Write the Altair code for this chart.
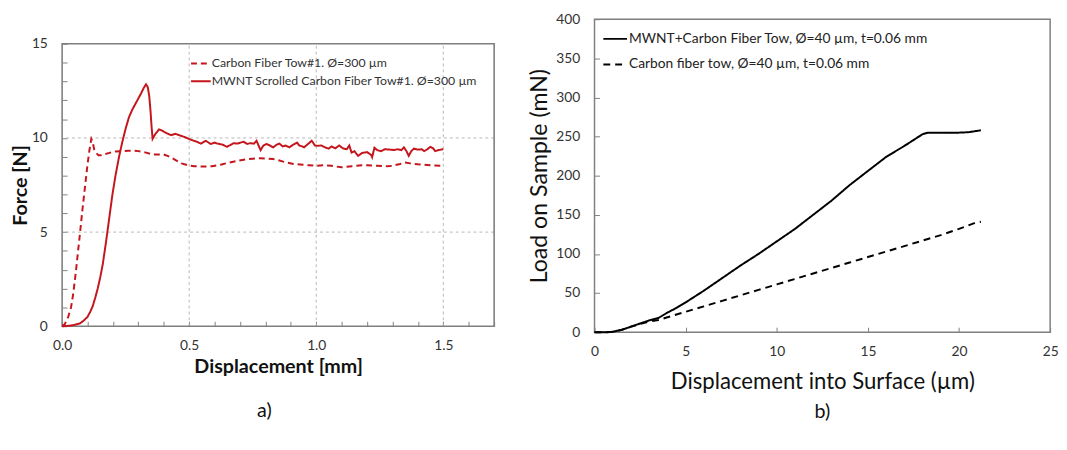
import altair as alt
import pandas as pd

# ---------------- Panel a) data ----------------
a_names = ["Carbon Fiber Tow#1. Ø=300 µm", "MWNT Scrolled Carbon Fiber Tow#1. Ø=300 µm"]

a_cf_x = [0, 0.01, 0.024, 0.035, 0.044, 0.055, 0.062, 0.07, 0.08, 0.09, 0.1, 0.108, 0.115,
          0.12, 0.126, 0.134, 0.143, 0.153, 0.17, 0.19, 0.21, 0.237, 0.26, 0.28, 0.30, 0.33,
          0.353, 0.375, 0.398, 0.415, 0.43, 0.45, 0.47, 0.495, 0.52, 0.559, 0.59, 0.624, 0.66,
          0.688, 0.72, 0.75, 0.778, 0.81, 0.83, 0.855, 0.881, 0.91, 0.946, 0.97, 1.0, 1.03,
          1.06, 1.1, 1.14, 1.18, 1.2, 1.24, 1.28, 1.3, 1.33, 1.35, 1.37, 1.4, 1.45, 1.5]
a_cf_y = [0, 0.1, 0.5, 1.0, 1.75, 3.0, 3.9, 4.9, 6.2, 7.4, 8.6, 9.4, 9.95,
          9.8, 9.4, 9.2, 9.08, 9.08, 9.15, 9.22, 9.28, 9.3, 9.32, 9.32, 9.3, 9.22,
          9.13, 9.12, 9.13, 9.05, 8.95, 8.8, 8.65, 8.55, 8.5, 8.48, 8.5, 8.58, 8.7,
          8.78, 8.86, 8.9, 8.92, 8.9, 8.88, 8.8, 8.7, 8.62, 8.58, 8.55, 8.52, 8.55,
          8.52, 8.44, 8.5, 8.55, 8.55, 8.52, 8.5, 8.52, 8.62, 8.7, 8.65, 8.6, 8.55, 8.52]

a_mw_x = [0, 0.03, 0.05, 0.07, 0.085, 0.1, 0.11, 0.12, 0.13, 0.14, 0.15, 0.16, 0.173, 0.185,
          0.198, 0.21, 0.224, 0.237, 0.25, 0.263, 0.276, 0.29, 0.30, 0.31, 0.321, 0.33, 0.337,
          0.343, 0.348, 0.352, 0.356, 0.366, 0.381, 0.392, 0.404, 0.42, 0.43, 0.445, 0.46,
          0.482, 0.508, 0.53, 0.546, 0.565, 0.585, 0.6, 0.611, 0.63, 0.649, 0.665, 0.675, 0.69,
          0.714, 0.728, 0.74, 0.755, 0.765, 0.773, 0.781, 0.792, 0.804, 0.818, 0.83, 0.845,
          0.855, 0.868, 0.88, 0.894, 0.91, 0.925, 0.933, 0.945, 0.952, 0.965, 0.982, 0.995,
          1.004, 1.02, 1.035, 1.049, 1.06, 1.075, 1.09, 1.105, 1.12, 1.13, 1.139, 1.15, 1.165,
          1.18, 1.2, 1.216, 1.22, 1.229, 1.24, 1.255, 1.27, 1.29, 1.307, 1.32, 1.335, 1.345,
          1.355, 1.364, 1.374, 1.384, 1.4, 1.415, 1.425, 1.436, 1.449, 1.46, 1.468, 1.48,
          1.494, 1.5]
a_mw_y = [0, 0.03, 0.08, 0.15, 0.3, 0.5, 0.75, 1.05, 1.5, 2.0, 2.6, 3.3, 4.5, 5.7,
          7.0, 8.0, 9.0, 9.8, 10.5, 11.1, 11.5, 11.85, 12.1, 12.35, 12.65, 12.85, 12.7,
          12.2, 11.4, 10.6, 9.95, 10.2, 10.45, 10.4, 10.3, 10.2, 10.15, 10.22, 10.15,
          10.05, 9.9, 9.8, 9.7, 9.85, 9.68, 9.75, 9.7, 9.65, 9.53, 9.65, 9.72, 9.7,
          9.8, 9.68, 9.72, 9.7, 9.85, 9.6, 9.35, 9.6, 9.68, 9.6, 9.5, 9.65,
          9.7, 9.55, 9.6, 9.5, 9.65, 9.75, 9.6, 9.55, 9.5, 9.65, 9.85, 9.6,
          9.58, 9.6, 9.5, 9.43, 9.55, 9.45, 9.6, 9.45, 9.4, 9.6, 9.22, 9.3, 9.05,
          9.2, 9.25, 9.1, 8.98, 9.48, 9.35, 9.3, 9.4, 9.38, 9.36, 9.4, 9.35, 9.5,
          9.3, 9.05, 9.3, 9.43, 9.38, 9.4, 9.3, 9.39, 9.53, 9.45, 9.3, 9.35,
          9.39, 9.4]

a_x_domain = [0, 1.7]
a_y_domain = [0, 15]
a_grid_x = [0.5, 1.0, 1.5]
a_grid_y = [5, 10]
a_xticks = [round(i * 0.1, 1) for i in range(18)]
a_yticks = list(range(16))

# ---------------- Panel b) data ----------------
b_names = ["MWNT+Carbon Fiber Tow, Ø=40 µm, t=0.06 mm", "Carbon fiber tow, Ø=40 µm, t=0.06 mm"]

b_mw_x = [0, 0.7, 1.0, 1.5, 2.0, 2.5, 3.0, 3.5, 4.0, 4.5, 5.0, 6.0, 7.0, 8.0, 9.0, 10.0,
          11.0, 12.0, 13.0, 14.0, 15.0, 16.0, 17.0, 18.0, 18.3, 19.0, 20.0, 20.5, 21.2]
b_mw_y = [0, 0, 0.5, 3, 7, 11, 15, 18, 25, 31, 38, 53, 69, 85, 100, 116,
          132, 150, 168, 188, 206, 224, 238, 253, 255, 255, 255, 255.5, 258]

b_cf_x = [0, 0.7, 1.0, 1.5, 2.0, 2.5, 3.0, 3.5, 4.0, 5.0, 6.0, 7.0, 8.0, 9.0, 10.0, 11.0,
          12.0, 13.0, 14.0, 15.0, 16.0, 17.0, 18.0, 19.0, 20.0, 20.8, 21.2]
b_cf_y = [0, 0, 0.5, 3, 7, 10.5, 13.5, 15.5, 19, 26, 33, 40, 47, 54, 61, 68,
          75, 82, 89, 96, 103, 110, 117, 124, 132, 139, 141]

b_xticks = [0, 5, 10, 15, 20, 25]
b_yticks = list(range(0, 401, 50))

RED = "#C4161C"
FONT = "Lato"
FRAME = "#7f7f7f"
GRID = "#b8b8b8"
LAB = "#333333"

# ---------------- Panel a) ----------------
A_W, A_H, A_TOP = 439, 312, 25
df_a = pd.concat([
    pd.DataFrame({"x": a_cf_x, "y": a_cf_y, "s": a_names[0], "o": range(len(a_cf_x))}),
    pd.DataFrame({"x": a_mw_x, "y": a_mw_y, "s": a_names[1], "o": range(len(a_mw_x))}),
])
xs_a = alt.Scale(domain=a_x_domain, nice=False, zero=False)
ys_a = alt.Scale(domain=a_y_domain, nice=False, range=[A_H, A_TOP])

ax_a_x = alt.Axis(orient="bottom", values=a_xticks, offset=-5, tickSize=5, domain=False,
                  grid=False, tickColor=FRAME,
                  labelExpr="abs(datum.value*2 - round(datum.value*2)) < 0.001 ? format(datum.value, '.1f') : ''",
                  labelOverlap=False, labelFlush=False, labelPadding=13,
                  labelFont=FONT, labelFontSize=14, labelColor=LAB,
                  titleFont=FONT, titleColor="#111",
                  titleFontWeight="bold", titleFontSize=20, titlePadding=4)
ax_a_y = alt.Axis(orient="left", values=a_yticks, offset=-5, tickSize=5, domain=False,
                  grid=False, tickColor=FRAME,
                  labelExpr="datum.value % 5 == 0 ? datum.label : ''",
                  labelOverlap=False, labelFlush=False, labelPadding=15,
                  labelFont=FONT, labelFontSize=14, labelColor=LAB,
                  titleFont=FONT, titleColor="#111",
                  titleFontWeight="bold", titleFontSize=20, titlePadding=1)
TX_A = "Displacement [mm]"
TY_A = "Force [N]"

frame_a = alt.Chart(pd.DataFrame({"x0": [a_x_domain[0]], "x1": [a_x_domain[1]],
                                  "y0": [a_y_domain[0]], "y1": [a_y_domain[1]]})).mark_rect(
    fillOpacity=0, stroke=FRAME, strokeWidth=1.6
).encode(x=alt.X("x0:Q", scale=xs_a, axis=ax_a_x, title=TX_A), x2="x1:Q",
         y=alt.Y("y0:Q", scale=ys_a, axis=ax_a_y, title=TY_A), y2="y1:Q")

grid_a_v = alt.Chart(pd.DataFrame({"gx": a_grid_x})).mark_rule(
    color=GRID, strokeDash=[3, 3], strokeWidth=1
).encode(x=alt.X("gx:Q", scale=xs_a, axis=ax_a_x, title=TX_A),
         y=alt.Y(datum=a_y_domain[0], scale=ys_a, axis=ax_a_y, title=TY_A),
         y2=alt.datum(a_y_domain[1]))
grid_a_h = alt.Chart(pd.DataFrame({"gy": a_grid_y})).mark_rule(
    color=GRID, strokeDash=[3, 3], strokeWidth=1
).encode(y=alt.Y("gy:Q", scale=ys_a, axis=ax_a_y, title=TY_A))

lines_a = alt.Chart(df_a).mark_line(color=RED, strokeWidth=2).encode(
    x=alt.X("x:Q", scale=xs_a, axis=ax_a_x, title=TX_A),
    y=alt.Y("y:Q", scale=ys_a, axis=ax_a_y, title=TY_A),
    strokeDash=alt.StrokeDash("s:N", scale=alt.Scale(domain=a_names, range=[[6, 4], [1, 0]]),
                              legend=alt.Legend(orient="none", legendX=130, legendY=A_TOP + 9,
                                                title=None,
                                                symbolType="stroke", symbolSize=400,
                                                symbolStrokeWidth=2, symbolStrokeColor=RED,
                                                labelFont=FONT, labelFontSize=12.5, labelColor=LAB,
                                                labelOffset=0, rowPadding=0, labelLimit=600,
                                                padding=0)),
    order="o:Q",
)

panel_a = alt.layer(grid_a_v, grid_a_h, frame_a, lines_a).properties(
    width=A_W, height=A_H,
    view=alt.ViewBackground(strokeOpacity=0),
    title=alt.TitleParams("a)", orient="bottom", frame="group", anchor="middle", fontSize=20,
                          font=FONT, fontWeight="normal", offset=25, dx=-14, color="#111"),
)

# ---------------- Panel b) ----------------
df_b = pd.concat([
    pd.DataFrame({"x": b_mw_x, "y": b_mw_y, "s": b_names[0], "o": range(len(b_mw_x))}),
    pd.DataFrame({"x": b_cf_x, "y": b_cf_y, "s": b_names[1], "o": range(len(b_cf_x))}),
])
xs_b = alt.Scale(domain=[0, 25], nice=False, zero=False)
ys_b = alt.Scale(domain=[0, 400], nice=False)

lines_b = alt.Chart(df_b).mark_line(color="black", strokeWidth=2).encode(
    x=alt.X("x:Q", scale=xs_b, title="Displacement into Surface (µm)",
            axis=alt.Axis(orient="bottom", values=b_xticks, offset=-5, tickSize=5, domain=False,
                          grid=False, tickColor=FRAME,
                          labelOverlap=False, labelFlush=False, labelPadding=13,
                          labelFont=FONT, labelFontSize=14, labelColor=LAB,
                          titleFont=FONT, titleColor="#111",
                          titleFontWeight="normal", titleFontSize=22.5, titlePadding=12)),
    y=alt.Y("y:Q", scale=ys_b, title="Load on Sample (mN)",
            axis=alt.Axis(orient="left", values=b_yticks, offset=-5, tickSize=5, domain=False,
                          grid=False, tickColor=FRAME,
                          labelOverlap=False, labelFlush=False, labelPadding=15,
                          labelFont=FONT, labelFontSize=14, labelColor=LAB,
                          titleFont=FONT, titleColor="#111",
                          titleFontWeight="normal", titleFontSize=23.5, titlePadding=4)),
    strokeDash=alt.StrokeDash("s:N", scale=alt.Scale(domain=b_names, range=[[1, 0], [7, 5]]),
                              legend=alt.Legend(orient="none", legendX=8, legendY=7, title=None,
                                                symbolType="stroke", symbolSize=576,
                                                symbolStrokeWidth=2, symbolStrokeColor="black",
                                                labelFont=FONT, labelFontSize=14, labelColor="#222",
                                                labelOffset=1, rowPadding=6, labelLimit=600,
                                                padding=0)),
    order="o:Q",
)

panel_b = lines_b.properties(
    width=463, height=318,
    view=alt.ViewBackground(stroke=FRAME, strokeWidth=1.5),
    title=alt.TitleParams("b)", orient="bottom", frame="group", anchor="middle", fontSize=20,
                          font=FONT, fontWeight="normal", offset=10, color="#111"),
)

chart = alt.concat(
    panel_a, panel_b, columns=2, spacing=32,
    padding={"left": 2, "top": 0, "right": 0, "bottom": 0},
    background="white",
).resolve_scale(strokeDash="independent").configure_view(stroke=FRAME, strokeWidth=1.5)

chart.save("out.html", embed_options={"renderer": "svg", "actions": False})
